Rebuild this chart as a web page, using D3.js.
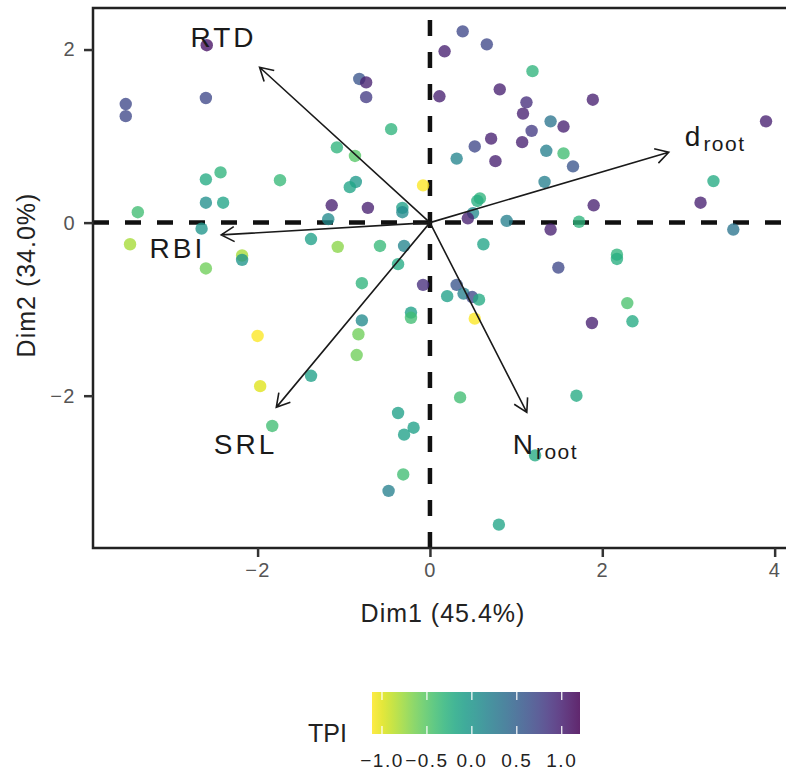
<!DOCTYPE html>
<html>
<head>
<meta charset="utf-8">
<script src="https://cdn.jsdelivr.net/npm/d3@7"></script>
<style>
  body { margin: 0; background: #fff; }
  svg text { font-family: "Liberation Sans", Arial, sans-serif; }
</style>
</head>
<body>
<div id="chart"></div>
<script>
// individuals (PCA scores) and their TPI value
let dim1 = [-2.59,-3.53,-3.53,-2.60,-0.82,-0.74,-0.74,-0.45,-1.08,-0.87,
            -0.86,-0.93,-2.60,-2.43,-1.74,-3.39,-2.60,-2.40,-1.14,-0.72,
            -0.32,-0.32,-1.18,-2.65,-3.48,-1.38,-1.07,-0.58,-0.30,-2.18,
            -2.18,-2.60, 0.38, 0.17, 0.66, 1.19, 0.11, 0.81, 1.12, 1.08,
             1.89, 1.40, 1.55, 1.18, 0.71, 0.52, 1.07, 0.31, 1.35, 1.55,
             0.76, 1.66, 3.90,-0.08, 1.33, 3.29, 0.58, 0.55, 0.50, 0.44,
             1.90, 3.14, 0.89, 1.73, 1.40, 3.52, 0.62, 1.49, 2.17, 2.17,
            -0.37,-0.79,-0.08, 0.31, 0.20, 0.39, 0.49, 0.57,-0.22,-0.22,
             0.52, 2.29, 1.88, 2.35,-0.79,-2.00,-0.83,-0.85,-1.38,-1.97,
            -1.83, 0.35, 1.70,-0.37,-0.19,-0.30,-0.31,-0.48, 1.22, 0.80];
let dim2 = [ 2.05, 1.37, 1.23, 1.44, 1.66, 1.62, 1.45, 1.08, 0.87, 0.77,
             0.47, 0.41, 0.50, 0.58, 0.49, 0.12, 0.23, 0.23, 0.20, 0.17,
             0.17, 0.12, 0.04,-0.07,-0.25,-0.19,-0.28,-0.27,-0.27,-0.38,
            -0.43,-0.53, 2.21, 1.98, 2.06, 1.75, 1.46, 1.54, 1.39, 1.26,
             1.42, 1.17, 1.11, 1.06, 0.97, 0.88, 0.93, 0.74, 0.83, 0.80,
             0.71, 0.65, 1.17, 0.43, 0.47, 0.48, 0.28, 0.25, 0.11, 0.05,
             0.20, 0.23, 0.02, 0.01,-0.08,-0.08,-0.25,-0.52,-0.37,-0.42,
            -0.48,-0.70,-0.72,-0.72,-0.85,-0.82,-0.86,-0.89,-1.04,-1.10,
            -1.11,-0.93,-1.16,-1.14,-1.13,-1.31,-1.29,-1.53,-1.77,-1.89,
            -2.35,-2.02,-2.00,-2.20,-2.37,-2.45,-2.91,-3.10,-2.69,-3.49];
let tpi  = [ 1.1, 0.7, 0.7, 0.7, 0.6, 1.0, 0.8,-0.3,-0.3,-0.5,
            -0.05,-0.15,-0.2,-0.3,-0.35,-0.4, 0.05,-0.15, 1.0, 1.0,
            -0.1, 0.1, 0.1, 0.0,-0.8,-0.1,-0.7,-0.35, 0.15,-0.8,
             0.0,-0.6, 0.7, 1.0, 0.7,-0.3, 1.0, 1.0, 0.9, 1.0,
             1.0, 0.3, 1.0, 0.8, 1.0, 0.7, 1.0, 0.15, 0.2,-0.4,
             1.0, 0.6, 1.0,-1.1, 0.2,-0.2,-0.3,-0.25, 0.1, 1.0,
             1.0, 1.0, 0.2,-0.3, 1.0, 0.3,-0.15, 0.7,-0.3,-0.25,
            -0.2,-0.3, 0.9, 0.6,-0.1, 0.2, 0.7,-0.2,-0.1,-0.4,
            -1.1,-0.45, 1.0,-0.2, 0.1,-1.1,-0.6,-0.6,-0.1,-1.0,
            -0.4,-0.4,-0.2,-0.1,-0.1,-0.1,-0.4, 0.2,-0.2,-0.15];

// variable loadings (arrows) and where their labels sit
let varNames = ["RTD", "d", "RBI", "SRL", "N"];
let varSub   = ["", "root", "", "", "root"];
let varX     = [-1.977, 2.771, -2.422, -1.783, 1.124];
let varY     = [ 1.795, 0.813, -0.142, -2.135, -2.193];
let labX     = [-2.395, 3.31, -2.93, -2.14, 1.34];
let labY     = [ 2.03, 0.89, -0.41, -2.67, -2.67];

let xTicks = [-2, 0, 2, 4];
let yTicks = [-2, 0, 2];
let tpiTicks = [-1.0, -0.5, 0.0, 0.5, 1.0];
let tpiRange = [-1.111, 1.203];

let larg = 786;
let alt = 771;

let canvas = d3.select("#chart")
                .append("svg")
                .attr("width", larg)
                .attr("height", alt);

var x = d3.scaleLinear()
            .domain([-3.91, 4.3])
            .range([93, 800.5]);
var y = d3.scaleLinear()
            .domain([-3.76, 2.48])
            .range([548, 8]);

var cor = d3.scaleSequential(t => d3.interpolateViridis(1 - t))
            .domain(tpiRange);

canvas.append("clipPath")
        .attr("id", "painel")
        .append("rect")
        .attr("x", 93).attr("y", 8)
        .attr("width", 800.5 - 93).attr("height", 540);

let plot = canvas.append("g").attr("clip-path", "url(#painel)");

// reference lines at 0
plot.append("line")
    .attr("x1", x(-3.91)).attr("x2", x(4.3))
    .attr("y1", y(0)).attr("y2", y(0))
    .attr("stroke", "#111").attr("stroke-width", 4.5)
    .attr("stroke-dasharray", "16,16");
plot.append("line")
    .attr("x1", x(0)).attr("x2", x(0))
    .attr("y1", y(-3.76)).attr("y2", y(2.48))
    .attr("stroke", "#111").attr("stroke-width", 4.5)
    .attr("stroke-dasharray", "16,16");

// points
let pts = d3.range(dim1.length);
plot.selectAll("circle")
    .data(pts)
    .enter()
        .append("circle")
        .attr("cx", i => x(dim1[i]))
        .attr("cy", i => y(dim2[i]))
        .attr("r", 6.2)
        .attr("fill", i => cor(tpi[i]))
        .attr("opacity", 0.78);

// arrows
let vars = d3.range(varNames.length);
let setas = plot.selectAll(".seta")
    .data(vars)
    .enter()
        .append("path")
        .attr("class", "seta")
        .attr("fill", "none")
        .attr("stroke", "#1a1a1a")
        .attr("stroke-width", 1.6)
        .attr("d", function(i){
            let x0 = x(0), y0 = y(0);
            let x1 = x(varX[i]), y1 = y(varY[i]);
            let ang = Math.atan2(y1 - y0, x1 - x0);
            let L = 15, a = Math.PI / 6;
            let w1 = [x1 - L * Math.cos(ang - a), y1 - L * Math.sin(ang - a)];
            let w2 = [x1 - L * Math.cos(ang + a), y1 - L * Math.sin(ang + a)];
            return "M" + x0 + "," + y0 + "L" + x1 + "," + y1 +
                   "M" + w1 + "L" + x1 + "," + y1 + "L" + w2;
        });

let rotulos = canvas.selectAll(".rotulo")
    .data(vars)
    .enter()
        .append("text")
        .attr("class", "rotulo")
        .attr("x", i => x(labX[i]))
        .attr("y", i => y(labY[i]))
        .attr("text-anchor", "middle")
        .style("font-size", "28px")
        .style("letter-spacing", "3px")
        .attr("fill", "#1a1a1a");
rotulos.append("tspan").text(i => varNames[i]);
rotulos.append("tspan")
        .attr("dy", 5)
        .style("font-size", "21px")
        .style("letter-spacing", "1.5px")
        .text(i => varSub[i]);

// panel border
canvas.append("rect")
        .attr("x", 93).attr("y", 8)
        .attr("width", 800.5 - 93).attr("height", 540)
        .attr("fill", "none")
        .attr("stroke", "#222")
        .attr("stroke-width", 2.5);

// axes
let eixoX = canvas.append("g")
        .attr("transform", "translate(0,548)")
        .call(d3.axisBottom(x).tickValues(xTicks).tickSize(9).tickPadding(6)
              .tickFormat(d => d3.format("d")(d).replace("-", "\u2212")));
let eixoY = canvas.append("g")
        .attr("transform", "translate(93,0)")
        .call(d3.axisLeft(y).tickValues(yTicks).tickSize(9).tickPadding(8)
              .tickFormat(d => d3.format("d")(d).replace("-", "\u2212")));
[eixoX, eixoY].forEach(function(g){
    g.select(".domain").remove();
    g.selectAll(".tick line").attr("stroke", "#333").attr("stroke-width", 2.5);
    g.selectAll(".tick text")
        .attr("fill", "#555")
        .style("font-size", "20px")
        .style("letter-spacing", "1.5px")
        .style("font-family", "'Liberation Sans', Arial, sans-serif");
});

canvas.append("text")
        .attr("x", 443).attr("y", 622)
        .attr("text-anchor", "middle")
        .style("font-size", "25px")
        .style("letter-spacing", "1px")
        .attr("fill", "#222")
        .text("Dim1 (45.4%)");
canvas.append("text")
        .attr("transform", "translate(35,275) rotate(-90)")
        .attr("text-anchor", "middle")
        .style("font-size", "25px")
        .style("letter-spacing", "1px")
        .attr("fill", "#222")
        .text("Dim2 (34.0%)");

// colour bar legend
var escLeg = d3.scaleLinear().domain(tpiRange).range([372, 580]);
let grad = canvas.append("defs").append("linearGradient")
        .attr("id", "grad").attr("x1", "0%").attr("x2", "100%");
d3.range(0, 1.0001, 0.05).forEach(function(t){
    grad.append("stop")
        .attr("offset", (t * 100) + "%")
        .attr("stop-color", d3.interpolateViridis(1 - t));
});
canvas.append("rect")
        .attr("x", 372).attr("y", 692)
        .attr("width", 208).attr("height", 42)
        .attr("fill", "url(#grad)")
        .attr("opacity", 0.85);
canvas.selectAll(".legtick")
    .data(tpiTicks)
    .enter()
        .append("path")
        .attr("class", "legtick")
        .attr("stroke", "white")
        .attr("stroke-width", 1.2)
        .attr("d", d => "M" + escLeg(d) + ",692v8M" + escLeg(d) + ",734v-8");
canvas.selectAll(".leglab")
    .data(tpiTicks)
    .enter()
        .append("text")
        .attr("class", "leglab")
        .attr("x", d => escLeg(d))
        .attr("y", 767)
        .attr("text-anchor", "middle")
        .style("font-size", "19px")
        .style("letter-spacing", "1.5px")
        .attr("fill", "#222")
        .text(d => d3.format(".1f")(d).replace("-", "\u2212"));
canvas.append("text")
        .attr("x", 308).attr("y", 742)
        .style("font-size", "25px")
        .attr("fill", "#222")
        .text("TPI");
</script>
</body>
</html>
